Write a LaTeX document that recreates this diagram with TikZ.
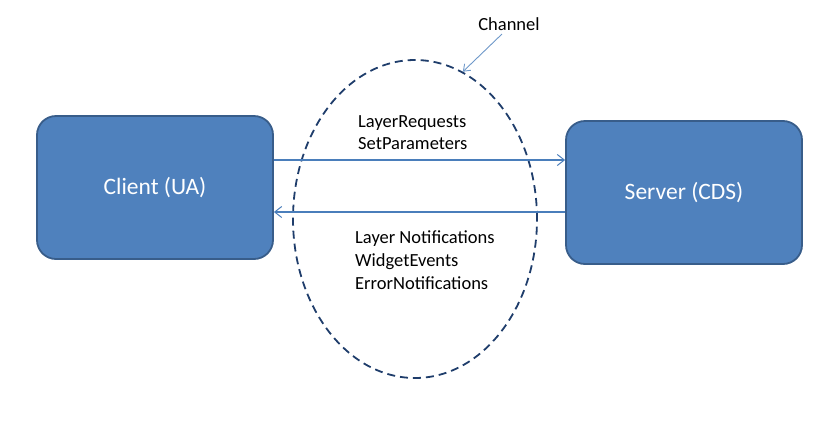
\documentclass[tikz,border=0pt]{standalone}
\usepackage{fontspec}
\setmainfont{Carlito}
\usetikzlibrary{shapes.geometric,arrows.meta}
\definecolor{boxfill}{HTML}{4F81BD}
\definecolor{boxline}{HTML}{385D8A}
\definecolor{chanline}{HTML}{1F3D6B}
\definecolor{msgline}{HTML}{4A7EBB}
\tikzset{
  party/.style={draw=boxline, line width=1.8pt, fill=boxfill, rounded corners=19pt, minimum width=236pt,
    minimum height=143pt, text=white, font=\fontsize{23.5}{28}\selectfont},
  msg/.style={draw=msgline, line width=1.3pt, -{Straight Barb[length=7pt,width=11pt,line width=1pt]}},
  msgtext/.style={align=left, font=\fontsize{18.5}{22.8}\selectfont, anchor=north west, inner sep=0pt}
}
\begin{document}
\begin{tikzpicture}[x=1pt, y=-1pt]
  \useasboundingbox (0,0) rectangle (840,426);
  \node[party] (client) at (155,187.5) {Client (UA)};
  \node[party] (server) at (684,192.5) {Server (CDS)};
  \node[ellipse, draw=chanline, line width=1.8pt, dash pattern=on 8pt off 5pt, minimum width=244pt, minimum height=318pt] (channel) at (415,219) {};
  \coordinate (upper) at (0,160); \coordinate (lower) at (0,212);
  \draw[msg] (client.east |- upper) -- (server.west |- upper);
  \draw[msg] (server.west |- lower) -- (client.east |- lower);
  \node[msgtext] (requests) at (358,115) {LayerRequests\\SetParameters};
  \node[msgtext] (notify) at (355,231) {Layer Notifications\\WidgetEvents\\ErrorNotifications};
  \node[font=\fontsize{18.5}{22}\selectfont] (chanlabel) at (509,24) {Channel};
  \draw[draw=msgline!80, line width=0.9pt, -{Straight Barb[length=6pt,width=9pt]}] (chanlabel.235) -- (channel.72);
\end{tikzpicture}
\end{document}
